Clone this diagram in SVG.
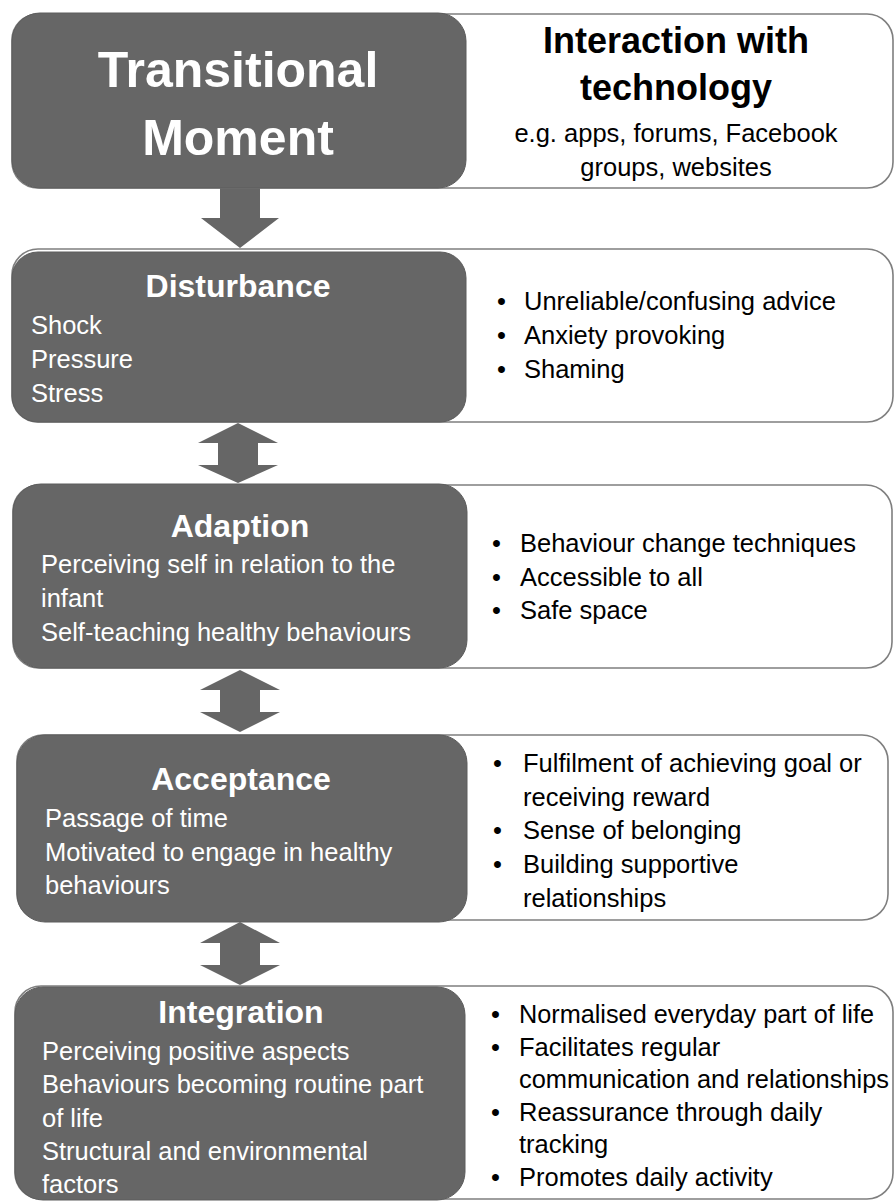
<svg xmlns="http://www.w3.org/2000/svg" width="895" height="1201" viewBox="0 0 895 1201">
<style>
.bg{fill:#ffffff;stroke:#7f7f7f;stroke-width:1.6}
.dk{fill:#666666;stroke:#5c5c5c;stroke-width:1}
.arr{fill:#666666;stroke:none}
text{font-family:"Liberation Sans",Arial,sans-serif}
.big{font-size:50px;font-weight:bold;fill:#ffffff;text-anchor:middle}
.ttl{font-size:32px;font-weight:bold;fill:#ffffff;text-anchor:middle}
.wt{font-size:25.5px;fill:#ffffff}
.bt{font-size:25.5px;fill:#000000}
.hd{font-size:36px;font-weight:bold;fill:#000000;text-anchor:middle}
.cn{text-anchor:middle}
</style>
<rect width="895" height="1201" fill="#ffffff"/>

<g id="connectors">
<polygon class="arr" points="220,188 260,188 260,218 279,218 240,248 201,218 220,218"/>
<polygon class="arr" points="238,423 278,443 258,443 258,465 278,465 238,483 198,465 218,465 218,443 198,443"/>
<polygon class="arr" points="240,670 280,690 260,690 260,712 280,712 240,732 200,712 220,712 220,690 200,690"/>
<polygon class="arr" points="240,922 280,943 260,943 260,965 280,965 240,985 200,965 220,965 220,943 200,943"/>
</g>

<g id="transitional-moment">
<rect class="bg" x="12" y="14" width="881" height="174" rx="26"/>
<rect class="dk" x="12" y="13" width="454" height="175" rx="28"/>
<text class="big" x="238" y="87">Transitional</text>
<text class="big" x="238" y="155">Moment</text>
<text class="hd" x="676" y="53">Interaction with</text>
<text class="hd" x="676" y="100">technology</text>
<text class="bt cn" x="676" y="142">e.g. apps, forums, Facebook</text>
<text class="bt cn" x="676" y="176">groups, websites</text>
</g>

<g id="disturbance">
<rect class="bg" x="12" y="249" width="881" height="173" rx="26"/>
<rect class="dk" x="12" y="252" width="454" height="170" rx="26"/>
<text class="ttl" x="238" y="297">Disturbance</text>
<text class="wt" x="31" y="334">Shock</text>
<text class="wt" x="31" y="368">Pressure</text>
<text class="wt" x="31" y="402">Stress</text>
<text class="bt" x="497" y="310">•</text><text class="bt" x="524" y="310">Unreliable/confusing advice</text>
<text class="bt" x="497" y="344">•</text><text class="bt" x="524" y="344">Anxiety provoking</text>
<text class="bt" x="497" y="378">•</text><text class="bt" x="524" y="378">Shaming</text>
</g>

<g id="adaption">
<rect class="bg" x="13" y="485" width="879" height="183" rx="26"/>
<rect class="dk" x="13" y="484" width="454" height="184" rx="28"/>
<text class="ttl" x="240" y="537">Adaption</text>
<text class="wt" x="41" y="573">Perceiving self in relation to the</text>
<text class="wt" x="41" y="607">infant</text>
<text class="wt" x="41" y="641">Self-teaching healthy behaviours</text>
<text class="bt" x="492" y="552">•</text><text class="bt" x="520" y="552">Behaviour change techniques</text>
<text class="bt" x="492" y="586">•</text><text class="bt" x="520" y="586">Accessible to all</text>
<text class="bt" x="492" y="619">•</text><text class="bt" x="520" y="619">Safe space</text>
</g>

<g id="acceptance">
<rect class="bg" x="17" y="735" width="871" height="185" rx="26"/>
<rect class="dk" x="17" y="735" width="450" height="187" rx="28"/>
<text class="ttl" x="241" y="790">Acceptance</text>
<text class="wt" x="45" y="827">Passage of time</text>
<text class="wt" x="45" y="861">Motivated to engage in healthy</text>
<text class="wt" x="45" y="894">behaviours</text>
<text class="bt" x="493" y="772">•</text><text class="bt" x="523" y="772">Fulfilment of achieving goal or</text>
<text class="bt" x="523" y="806">receiving reward</text>
<text class="bt" x="493" y="839">•</text><text class="bt" x="523" y="839">Sense of belonging</text>
<text class="bt" x="493" y="873">•</text><text class="bt" x="523" y="873">Building supportive</text>
<text class="bt" x="523" y="907">relationships</text>
</g>

<g id="integration">
<rect class="bg" x="15" y="986" width="878" height="213" rx="26"/>
<rect class="dk" x="15" y="987" width="450" height="213" rx="28"/>
<text class="ttl" x="241" y="1023">Integration</text>
<text class="wt" x="42" y="1060">Perceiving positive aspects</text>
<text class="wt" x="42" y="1093">Behaviours becoming routine part</text>
<text class="wt" x="42" y="1127">of life</text>
<text class="wt" x="42" y="1160">Structural and environmental</text>
<text class="wt" x="42" y="1193">factors</text>
<text class="bt" x="491" y="1023">•</text><text class="bt" x="519" y="1023" textLength="355" lengthAdjust="spacingAndGlyphs">Normalised everyday part of life</text>
<text class="bt" x="491" y="1056">•</text><text class="bt" x="519" y="1056">Facilitates regular</text>
<text class="bt" x="519" y="1088" textLength="370" lengthAdjust="spacingAndGlyphs">communication and relationships</text>
<text class="bt" x="491" y="1121">•</text><text class="bt" x="519" y="1121">Reassurance through daily</text>
<text class="bt" x="519" y="1153">tracking</text>
<text class="bt" x="491" y="1186">•</text><text class="bt" x="519" y="1186">Promotes daily activity</text>
</g>
</svg>
